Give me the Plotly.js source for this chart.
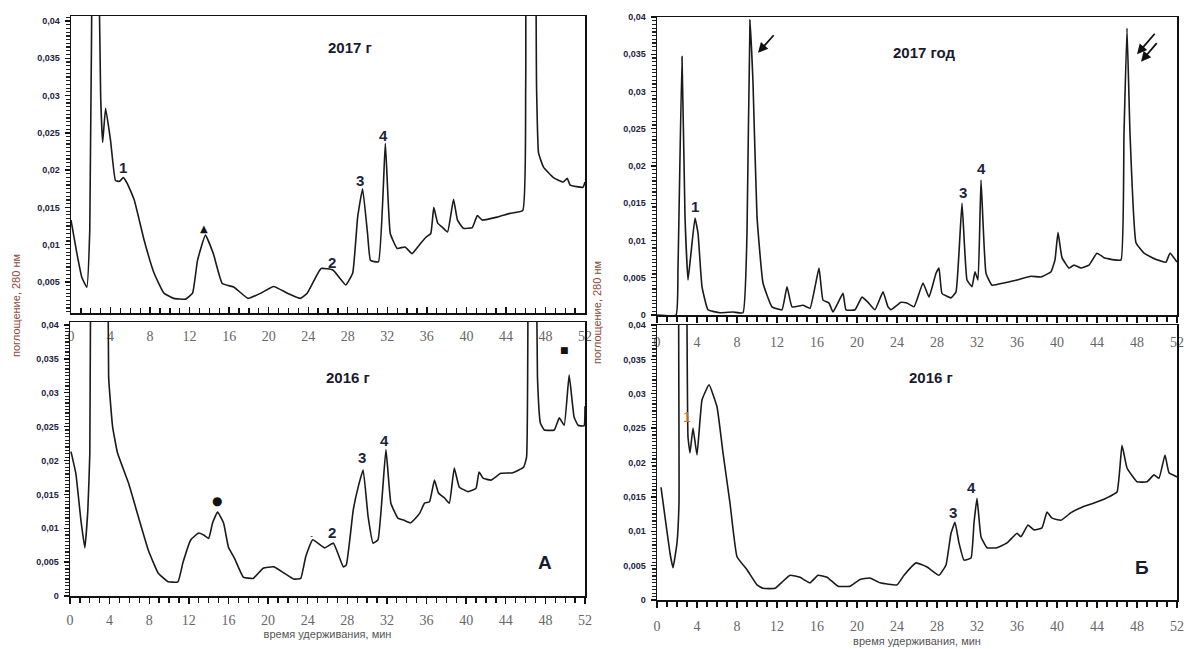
<!DOCTYPE html>
<html>
<head>
<meta charset="utf-8">
<script src="https://cdn.plot.ly/plotly-3.0.1.min.js"></script>
<style>html,body{margin:0;padding:0;background:#fff;}#chart{width:1184px;height:649px;}</style>
</head>
<body>
<div id="chart"></div>
<script>
// ---- Data (retention time, min / absorbance 280 nm) ----
// Panel A, 2017
const a17_t = [0.0,0.6,1.1,1.6,1.9,2.2,2.5,2.8,3.0,3.2,3.5,4.0,4.5,4.9,5.3,5.7,6.4,7.4,8.4,9.4,10.4,11.6,12.3,12.8,13.6,14.4,15.3,16.5,17.9,19.2,20.5,21.9,23.2,23.9,25.3,26.5,27.8,28.5,29.0,29.5,30.0,30.3,31.1,31.8,32.3,33.0,33.8,34.5,35.2,35.9,36.4,36.7,37.1,37.6,38.1,38.7,39.1,39.7,40.6,41.1,41.6,43.1,44.4,45.7,46.0,46.3,46.6,47.1,47.3,47.8,48.8,49.8,50.2,50.5,51.8,52.0];
const a17_v = [0.0133,0.0088,0.0056,0.0043,0.012,0.06,0.09,0.05,0.03,0.0237,0.0283,0.024,0.0186,0.0185,0.019,0.0182,0.016,0.0106,0.0062,0.0035,0.0028,0.0027,0.0035,0.0079,0.0113,0.0088,0.0048,0.0043,0.0028,0.0035,0.0044,0.0035,0.0028,0.0035,0.0068,0.0066,0.0046,0.0062,0.0137,0.0175,0.0115,0.0079,0.0077,0.0236,0.0115,0.0095,0.0097,0.0088,0.0099,0.011,0.0115,0.015,0.0129,0.0123,0.0117,0.0161,0.0133,0.0122,0.0123,0.0139,0.0133,0.0137,0.0142,0.0146,0.031,0.09,0.09,0.031,0.0223,0.0204,0.019,0.0184,0.0189,0.018,0.0177,0.0184];
// Panel A, 2016
const a16_t = [0.1,0.6,1.1,1.5,1.8,2.0,2.2,2.6,3.4,3.8,3.9,4.3,4.8,5.9,6.9,7.9,8.9,9.9,10.9,11.4,12.2,13.0,13.5,14.0,14.4,14.9,15.5,16.0,16.6,17.5,18.5,19.5,20.6,21.6,22.6,23.3,23.8,24.5,25.7,26.6,27.6,27.9,28.6,29.1,29.6,30.1,30.6,31.1,31.9,32.4,33.1,33.7,34.4,35.3,35.8,36.3,36.8,37.2,37.8,38.3,38.8,39.3,40.2,41.0,41.3,41.7,42.5,43.5,44.7,45.8,46.1,46.3,46.6,46.9,47.2,47.5,47.9,48.9,49.4,49.9,50.4,50.9,51.3,51.9,52.0];
const a16_v = [0.0213,0.018,0.0112,0.0071,0.0127,0.021,0.08,0.1,0.1,0.06,0.0323,0.025,0.0211,0.0167,0.0117,0.0068,0.0034,0.0021,0.0021,0.0049,0.0083,0.0093,0.009,0.0085,0.0108,0.0124,0.0108,0.0072,0.0056,0.0028,0.0026,0.0041,0.0043,0.0034,0.0025,0.0026,0.0058,0.0083,0.0071,0.0078,0.0043,0.0046,0.0127,0.0161,0.0186,0.0117,0.0078,0.0083,0.0216,0.0137,0.0115,0.0112,0.0108,0.0122,0.0137,0.0139,0.0171,0.0152,0.0145,0.0137,0.0189,0.0161,0.0154,0.0159,0.0183,0.0174,0.0171,0.0181,0.0182,0.019,0.0205,0.08,0.1,0.08,0.0323,0.0255,0.0245,0.0245,0.0263,0.0252,0.0326,0.0264,0.0252,0.0251,0.028];
// Panel Б, 2017
const b17_t = [0.0,1.9,2.1,2.5,2.8,3.1,3.4,3.8,4.1,4.5,5.1,6.3,7.6,8.6,9.0,9.3,9.6,10.0,10.6,11.5,12.5,13.0,13.5,14.6,15.3,16.2,16.6,17.2,17.6,18.6,18.9,19.8,20.5,21.1,21.8,22.6,23.1,23.4,24.4,25.0,25.7,26.6,27.2,27.9,28.2,28.5,29.4,29.9,30.5,31.0,31.5,31.8,32.1,32.4,32.9,33.5,34.7,36.0,37.4,38.4,39.4,39.8,40.1,40.5,41.2,41.7,42.4,43.2,44.0,44.7,45.7,46.4,46.7,47.0,47.3,47.9,48.7,50.0,50.9,51.3,52.0];
const b17_v = [0.0,0.0,0.0064,0.0347,0.0132,0.0047,0.0083,0.013,0.011,0.0038,0.0007,0.0003,0.0004,0.0003,0.011,0.0396,0.0312,0.0132,0.0043,0.0011,0.0007,0.0038,0.0011,0.0013,0.0009,0.0063,0.002,0.0016,0.0004,0.0029,0.0007,0.0007,0.0024,0.0017,0.0007,0.0031,0.0011,0.0007,0.0017,0.0016,0.0011,0.0043,0.0024,0.0056,0.0063,0.0029,0.0023,0.0031,0.015,0.0047,0.0038,0.0058,0.0047,0.0181,0.0056,0.004,0.0043,0.0047,0.0052,0.0051,0.0058,0.0074,0.0111,0.0077,0.0063,0.0067,0.0063,0.0067,0.0083,0.0077,0.0074,0.0074,0.0244,0.0385,0.0244,0.0097,0.0083,0.0074,0.0071,0.0083,0.0071];
// Panel Б, 2016
const b16_t = [0.4,0.8,1.3,1.6,2.0,2.2,2.4,2.8,3.0,3.1,3.3,3.6,4.0,4.5,5.2,6.0,6.6,7.3,8.0,9.0,10.0,10.6,11.8,12.5,13.3,14.3,15.3,16.1,17.0,18.1,19.3,20.3,21.3,22.3,24.0,24.7,25.9,27.0,28.2,28.9,29.4,29.8,30.2,30.7,31.4,31.7,32.0,32.4,33.0,34.0,35.0,36.0,36.4,37.1,37.7,38.5,39.0,39.5,40.4,41.4,42.5,43.7,44.9,46.0,46.5,47.0,48.0,49.0,49.7,50.2,50.8,51.2,52.0];
const b16_v = [0.0164,0.0121,0.0068,0.0047,0.0083,0.0141,0.08,0.08,0.04,0.0237,0.0214,0.025,0.0211,0.0291,0.0313,0.0281,0.0214,0.0141,0.0063,0.0044,0.0022,0.0017,0.0017,0.0026,0.0036,0.0033,0.0025,0.0036,0.0033,0.002,0.002,0.003,0.0032,0.0025,0.0022,0.0036,0.0054,0.0048,0.0036,0.0051,0.0097,0.0113,0.0083,0.0058,0.0061,0.0112,0.0148,0.0092,0.0076,0.0076,0.0083,0.0097,0.0092,0.0109,0.0102,0.0105,0.0128,0.0119,0.0116,0.0127,0.0135,0.0141,0.0148,0.0157,0.0225,0.0192,0.0172,0.0172,0.0182,0.0177,0.0211,0.0185,0.0179];

const xTitle = "время удерживания, мин";
const yTitle = "поглощение, 280 нм";

const W = 1184, H = 649;
const px = v => v / W, py = v => 1 - v / H;

const lineStyle = {color: '#1a1a1a', width: 1.6, shape: 'spline', smoothing: 0.35};
function tr(t, v, xa, ya) {
  return {x: t, y: v, xaxis: xa, yaxis: ya, type: 'scatter', mode: 'lines', line: lineStyle, hoverinfo: 'skip', showlegend: false};
}
const data = [
  tr(a17_t, a17_v, 'x', 'y'),
  tr(a16_t, a16_v, 'x2', 'y2'),
  tr(b17_t, b17_v, 'x3', 'y3'),
  tr(b16_t, b16_v, 'x4', 'y4')
];

const xTickFont = {family: 'Liberation Serif, serif', size: 14, color: '#666666'};
const yTickFont = {family: 'Liberation Sans, Arial, sans-serif', size: 9, color: '#23233f', weight: 'bold'};

function xBase(domain, anchor, ticks, standoff) {
  return {
    domain: domain, anchor: anchor, range: [0, 52], tick0: 0, dtick: 4,
    ticks: ticks, ticklen: 6, tickwidth: 1.4, tickcolor: '#111',
    minor: {dtick: 1, ticks: ticks, ticklen: 5, tickwidth: 1.3, tickcolor: '#111'},
    showline: true, mirror: true, linecolor: '#111', linewidth: 1.5,
    showgrid: false, zeroline: false, tickfont: xTickFont,
    ticklabelstandoff: standoff, automargin: false, fixedrange: true
  };
}
function yBase(domain, anchor, range) {
  return {
    domain: domain, anchor: anchor, range: range, tick0: 0, dtick: 0.005,
    ticks: 'outside', ticklen: 5, tickwidth: 1.4, tickcolor: '#111',
    minor: {dtick: 0.0005, ticks: 'outside', ticklen: 4, tickwidth: 1.2, tickcolor: '#222'},
    showline: true, mirror: true, linecolor: '#111', linewidth: 1.5,
    showgrid: false, zeroline: false, tickfont: yTickFont,
    ticklabelstandoff: 3, automargin: false, fixedrange: true
  };
}

const xa2 = xBase([px(70), px(585)], 'y2', 'outside', 5);
xa2.title = {text: xTitle, font: {family: 'Liberation Sans, Arial, sans-serif', size: 11, color: '#555'}, standoff: 2};
const xa4 = xBase([px(657), px(1177)], 'y4', 'outside', 7);
xa4.title = {text: xTitle, font: {family: 'Liberation Sans, Arial, sans-serif', size: 11, color: '#555'}, standoff: 4};

const numFont = {family: 'Liberation Sans, Arial, sans-serif', size: 15, color: '#1c2540', weight: 'bold'};
const yearFont = {family: 'Liberation Sans, Arial, sans-serif', size: 15, color: '#1a1a2e', weight: 'bold'};
const panelFont = {family: 'Liberation Sans, Arial, sans-serif', size: 19, color: '#1a1a2e', weight: 'bold'};

function lab(text, x, y, xr, yr, font) {
  return {text: text, x: x, y: y, xref: xr, yref: yr, showarrow: false, font: font, xanchor: 'center', yanchor: 'middle'};
}
function arrow(x, y, ax, ay, xr, yr) {
  return {text: '', x: x, y: y, xref: xr, yref: yr, showarrow: true, arrowhead: 2, arrowsize: 1.1, arrowwidth: 1.8, arrowcolor: '#111', ax: ax, ay: ay};
}

const annotations = [
  // Panel A 2017
  lab('2017 г', 28.2, 0.0365, 'x', 'y', yearFont),
  lab('1', 5.25, 0.0204, 'x', 'y', numFont),
  lab('▲', 13.5, 0.0122, 'x', 'y', {family: 'DejaVu Sans', size: 10, color: '#111'}),
  lab('2', 26.4, 0.0076, 'x', 'y', numFont),
  lab('3', 29.2, 0.0186, 'x', 'y', numFont),
  lab('4', 31.6, 0.0247, 'x', 'y', numFont),
  // Panel A 2016
  lab('2016 г', 28.1, 0.0322, 'x2', 'y2', yearFont),
  lab('●', 14.85, 0.014, 'x2', 'y2', {family: 'DejaVu Sans', size: 12, color: '#111'}),
  lab('-', 24.4, 0.0088, 'x2', 'y2', {family: 'Liberation Sans', size: 9, color: '#333'}),
  lab('2', 26.5, 0.0093, 'x2', 'y2', numFont),
  lab('3', 29.5, 0.0205, 'x2', 'y2', numFont),
  lab('4', 31.8, 0.023, 'x2', 'y2', numFont),
  lab('■', 49.9, 0.0363, 'x2', 'y2', {family: 'DejaVu Sans', size: 9, color: '#111'}),
  lab('А', 48.0, 0.005, 'x2', 'y2', panelFont),
  // Panel Б 2017
  lab('2017 год', 26.7, 0.0353, 'x3', 'y3', yearFont),
  lab('1', 3.8, 0.0145, 'x3', 'y3', numFont),
  lab('3', 30.6, 0.0165, 'x3', 'y3', numFont),
  lab('4', 32.4, 0.0197, 'x3', 'y3', numFont),
  arrow(10.1, 0.0352, 17, -19, 'x3', 'y3'),
  arrow(48.0, 0.0350, 19, -22, 'x3', 'y3'),
  arrow(48.4, 0.0340, 17, -20, 'x3', 'y3'),
  // Panel Б 2016
  lab('2016 г', 27.4, 0.0323, 'x4', 'y4', yearFont),
  lab('1', 3.0, 0.0266, 'x4', 'y4', {family: 'Liberation Sans, Arial, sans-serif', size: 14, color: '#c07a30'}),
  lab('3', 29.6, 0.0128, 'x4', 'y4', numFont),
  lab('4', 31.4, 0.0163, 'x4', 'y4', numFont),
  lab('Б', 48.5, 0.0048, 'x4', 'y4', panelFont),
  // y axis titles
  {text: yTitle, x: px(16), y: py(306), xref: 'paper', yref: 'paper', showarrow: false, textangle: -90,
   font: {family: 'Liberation Sans, Arial, sans-serif', size: 11, color: '#8a4a3a'}, xanchor: 'center', yanchor: 'middle'},
  {text: yTitle, x: px(597), y: py(313), xref: 'paper', yref: 'paper', showarrow: false, textangle: -90,
   font: {family: 'Liberation Sans, Arial, sans-serif', size: 11, color: '#8a4a3a'}, xanchor: 'center', yanchor: 'middle'}
];

const layout = {
  width: W, height: H,
  margin: {l: 0, r: 0, t: 0, b: 0},
  paper_bgcolor: '#ffffff', plot_bgcolor: 'rgba(0,0,0,0)',
  separators: ', ',
  showlegend: false,
  xaxis: xBase([px(71), px(585)], 'y', 'inside', 10),
  yaxis: yBase([py(313), py(16)], 'x', [0.00084, 0.04067]),
  xaxis2: xa2,
  yaxis2: yBase([py(596), py(322)], 'x2', [0, 0.04044]),
  xaxis3: xBase([px(657), px(1177)], 'y3', 'outside', 8),
  yaxis3: yBase([py(315), py(17)], 'x3', [0, 0.04]),
  xaxis4: xa4,
  yaxis4: yBase([py(600), py(325)], 'x4', [0, 0.04]),
  annotations: annotations
};

Plotly.newPlot('chart', data, layout, {staticPlot: true, displayModeBar: false});
</script>
</body>
</html>
